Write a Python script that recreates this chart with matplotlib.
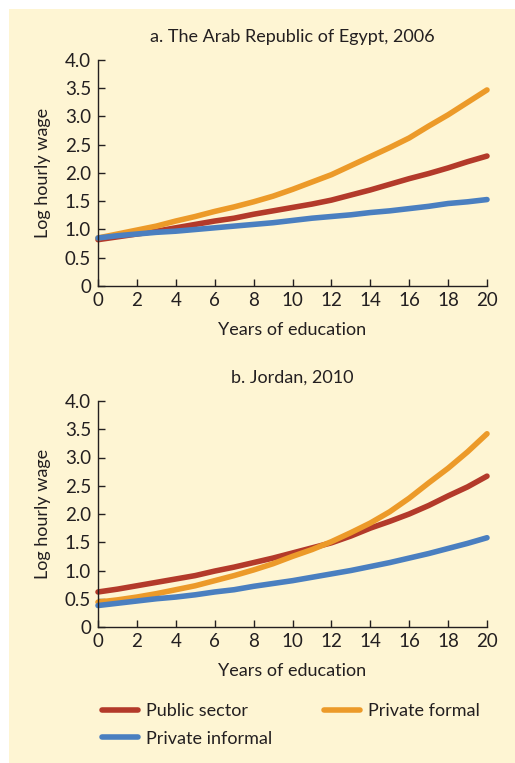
import matplotlib
matplotlib.use("Agg")
import matplotlib.pyplot as plt
from matplotlib.patches import Rectangle
from matplotlib.lines import Line2D

plt.rcParams['font.family'] = ['Lato', 'DejaVu Sans']

years = list(range(0, 21))

egypt_public = [0.82, 0.87, 0.92, 0.97, 1.03, 1.09, 1.15, 1.20, 1.27, 1.33, 1.39,
                1.45, 1.52, 1.61, 1.70, 1.80, 1.90, 1.99, 2.09, 2.20, 2.30]
egypt_formal = [0.85, 0.92, 0.99, 1.06, 1.15, 1.23, 1.32, 1.40, 1.49, 1.59, 1.71,
                1.84, 1.97, 2.13, 2.29, 2.45, 2.62, 2.83, 3.03, 3.25, 3.47]
egypt_informal = [0.85, 0.89, 0.92, 0.95, 0.97, 1.00, 1.03, 1.06, 1.09, 1.12, 1.16,
                  1.20, 1.23, 1.26, 1.30, 1.33, 1.37, 1.41, 1.46, 1.49, 1.53]

jordan_public = [0.62, 0.67, 0.73, 0.79, 0.85, 0.91, 0.99, 1.06, 1.14, 1.22, 1.31,
                 1.40, 1.49, 1.61, 1.75, 1.87, 2.00, 2.15, 2.32, 2.48, 2.67]
jordan_formal = [0.44, 0.48, 0.53, 0.59, 0.66, 0.73, 0.82, 0.91, 1.01, 1.12, 1.25,
                 1.37, 1.51, 1.67, 1.84, 2.04, 2.28, 2.55, 2.81, 3.10, 3.42]
jordan_informal = [0.38, 0.42, 0.46, 0.50, 0.53, 0.57, 0.62, 0.66, 0.72, 0.77, 0.82,
                   0.88, 0.94, 1.00, 1.07, 1.14, 1.22, 1.30, 1.39, 1.48, 1.58]

titles = ["a. The Arab Republic of Egypt, 2006", "b. Jordan, 2010"]
series_names = ["Public sector", "Private formal", "Private informal"]
x_ticks = list(range(0, 21, 2))
y_ticks = [0, 0.5, 1.0, 1.5, 2.0, 2.5, 3.0, 3.5, 4.0]
y_tick_labels = ["0", "0.5", "1.0", "1.5", "2.0", "2.5", "3.0", "3.5", "4.0"]

colors = ["#B33A2A", "#EC9A29", "#4A7FC0"]
bg = "#FEF5D3"
ink = "#231F20"

W, H = 515, 763
fig = plt.figure(figsize=(W / 100, H / 100), dpi=100)
fig.patch.set_facecolor("white")
fig.patches.append(Rectangle((9 / W, 0), 1 - 9 / W, 1 - 9 / H, transform=fig.transFigure,
                             facecolor=bg, edgecolor="none", zorder=-10))

def px_axes(left, top, right, bottom):
    return fig.add_axes([left / W, 1 - bottom / H, (right - left) / W, (bottom - top) / H])

panels = [
    (px_axes(98, 60, 487, 286), [egypt_public, egypt_formal, egypt_informal]),
    (px_axes(98, 401, 487, 627), [jordan_public, jordan_formal, jordan_informal]),
]

for (ax, data), title in zip(panels, titles):
    ax.set_facecolor("none")
    ax.set_zorder(1)
    for vals, c in zip(data, colors):
        ax.plot(years, vals, color=c, lw=4.0, solid_capstyle="round",
                solid_joinstyle="round", clip_on=False)
    ax.set_xlim(0, 20)
    ax.set_ylim(0, 4.0)
    ax.set_xticks(x_ticks)
    ax.set_yticks(y_ticks)
    ax.set_yticklabels(y_tick_labels)
    for s in ["top", "right"]:
        ax.spines[s].set_visible(False)
    for s in ["left", "bottom"]:
        ax.spines[s].set_color(ink)
        ax.spines[s].set_linewidth(1.0)
    ax.tick_params(direction="in", length=5, width=1.0, colors=ink, labelsize=13.5)
    ax.tick_params(axis="y", pad=5)
    ax.tick_params(axis="x", pad=4)
    ax.set_xlabel("Years of education", fontsize=13, color=ink)
    ax.xaxis.set_label_coords(0.5, -0.195)
    ax.xaxis.label.set_va("center")
    ax.set_ylabel("Log hourly wage", fontsize=13, color=ink)
    ax.yaxis.set_label_coords(-0.141, 0.5)
    ax.yaxis.label.set_va("center")
    ax.text(0.5, 1.102, title, transform=ax.transAxes, ha="center", va="center",
            fontsize=13, color=ink)

# legend: column-major fill -> order Public, Informal | Formal
handles = [Line2D([0], [0], color=c, lw=4.0, solid_capstyle="round") for c in colors]
order = [0, 2, 1]
fig.legend([handles[i] for i in order], [series_names[i] for i in order], ncol=2,
           loc="upper left", bbox_to_anchor=(102 / W, 1 - 703 / H), frameon=False,
           borderpad=0, borderaxespad=0,
           fontsize=13, handlelength=2.0, handletextpad=0.45, columnspacing=2.85,
           labelspacing=0.65, labelcolor=ink)

fig.savefig("out.png", dpi=100)
